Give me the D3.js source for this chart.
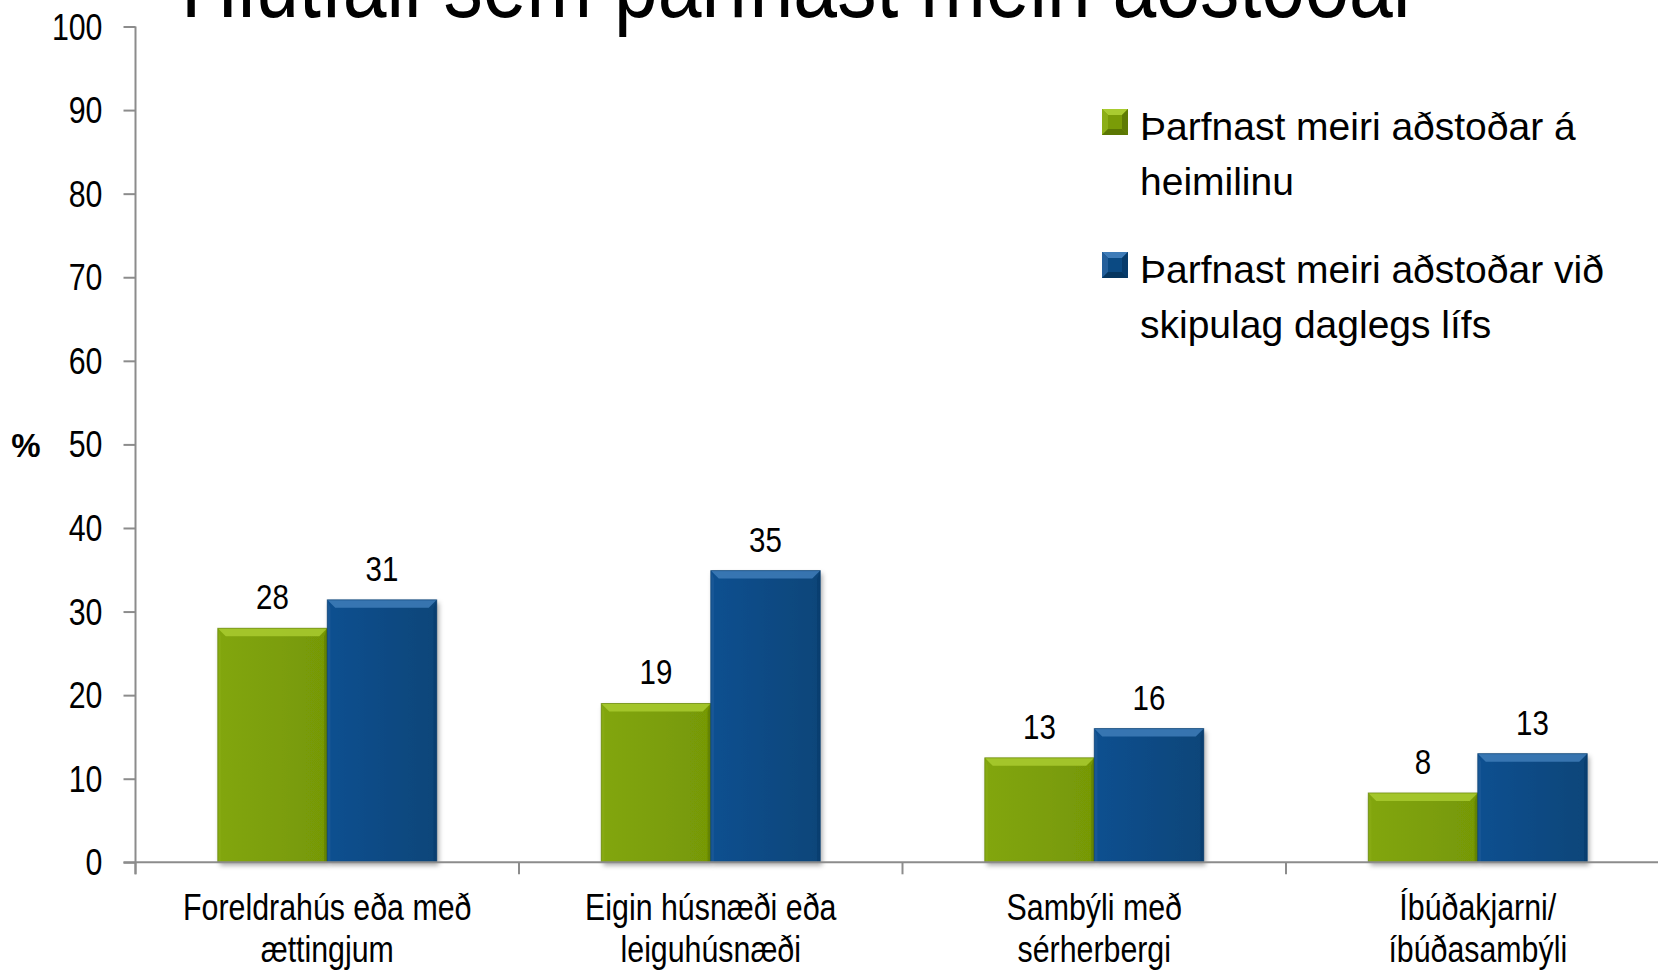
<!DOCTYPE html>
<html><head><meta charset="utf-8">
<script src="https://cdn.jsdelivr.net/npm/d3@7"></script>
<style>html,body{margin:0;padding:0;background:#fff;overflow:hidden}</style>
</head><body>
<svg id="c" width="1658" height="970"></svg>
<script>
const title = "Hlutfall sem þarfnast meiri aðstoðar";
const categories = ["Foreldrahús eða með ættingjum","Eigin húsnæði eða leiguhúsnæði","Sambýli með sérherbergi","Íbúðakjarni/ íbúðasambýli"];
const categoryLines = [["Foreldrahús eða með","ættingjum"],["Eigin húsnæði eða","leiguhúsnæði"],["Sambýli með","sérherbergi"],["Íbúðakjarni/","íbúðasambýli"]];
const seriesNames = ["Þarfnast meiri aðstoðar á heimilinu","Þarfnast meiri aðstoðar við skipulag daglegs lífs"];
const legendLines = [["Þarfnast meiri aðstoðar á","heimilinu"],["Þarfnast meiri aðstoðar við","skipulag daglegs lífs"]];
const heimilinu = [28, 19, 12.5, 8.3];
const skipulag = [31.4, 34.9, 16, 13];
const yTicks = [0,10,20,30,40,50,60,70,80,90,100];
const yLabel = "%";

// font detection
function tw(font){const c=document.createElement('canvas').getContext('2d');c.font=font;return c.measureText("Þarfnast meiri aðstoðar 0123").width;}
const hasNarrow = tw("40px 'Liberation Sans Narrow', monospace") !== tw("40px monospace");
const FONT = hasNarrow ? "'Liberation Sans Narrow','Arial Narrow',sans-serif" : "'Liberation Sans',Arial,sans-serif";
const SX = hasNarrow ? 1 : 0.82;
const WIDE = "'Liberation Sans',Arial,sans-serif";

const svg = d3.select("#c");
const W = 1658, H = 970;
const defs = svg.append("defs");
defs.append("filter").attr("id","sh").attr("x","-20%").attr("y","-20%").attr("width","150%").attr("height","150%")
  .append("feDropShadow").attr("dx",2).attr("dy",3).attr("stdDeviation",2.5).attr("flood-color","#000").attr("flood-opacity",0.35);

const pal = [
  {base:"#7a9c07", top:"#a9cb30", left:"#8cae17", right:"#5e7b04", bottom:"#5b7703", grad:["#82a60b","#769806"]},
  {base:"#0b4a83", top:"#3f7cb8", left:"#245f9b", right:"#073b6b", bottom:"#063660", grad:["#0f5090","#0a4579"]}
];
pal.forEach((p,i)=>{
  const g = defs.append("linearGradient").attr("id","g"+i).attr("x1",0).attr("x2",1).attr("y1",0).attr("y2",0);
  g.append("stop").attr("offset","0%").attr("stop-color",p.grad[0]);
  g.append("stop").attr("offset","100%").attr("stop-color",p.grad[1]);
});

function txt(parent,x,y,s,size,anchor,weight,wide){
  const sx = wide ? 1 : SX;
  return parent.append("text").attr("transform",`translate(${x},${y}) scale(${sx},1)`)
    .attr("text-anchor",anchor||"start").attr("font-family",wide?WIDE:FONT).attr("font-size",size)
    .attr("font-weight",weight||"normal").attr("fill","#000").text(s);
}

const y = d3.scaleLinear().domain([0,100]).range([862.3,26.5]);
const x0 = d3.scaleBand().domain(categories).range([135.5,1669.5]).padding(0);
const x1 = d3.scaleBand().domain(seriesNames).range([x0.bandwidth()*0.2145, x0.bandwidth()*0.7855]).padding(0);

// title
txt(svg,181,17,title,96,"start");

// y axis
const yAxis = svg.append("g").attr("transform",`translate(${x0.range()[0]},0)`)
  .call(d3.axisLeft(y).tickValues(yTicks).tickSize(12).tickPadding(21).tickFormat(d3.format("d")));
yAxis.select(".domain").attr("stroke","#8c8c8c").attr("stroke-width",2).attr("d",`M0,${y(100)}V${y(0)+12}`);
yAxis.selectAll(".tick line").attr("stroke","#8c8c8c").attr("stroke-width",2);
yAxis.selectAll(".tick text").remove();
yTicks.forEach(t=>txt(svg,x0.range()[0]-33,y(t)+13,String(t),37,"end"));
txt(svg,26,y(50)+13,yLabel,33,"middle","bold",true);

// bars
const data = categories.map((c,i)=>({cat:c, vals:[heimilinu[i], skipulag[i]]}));
const bev = 8;
data.forEach((d,ci)=>{
  d.vals.forEach((v,si)=>{
    const p = pal[si];
    const xa = x0(d.cat) + x1(seriesNames[si]);
    const xb = xa + x1.bandwidth();
    const yt = y(v), yb = y(0);
    const g = svg.append("g");
    g.append("rect").attr("x",xa).attr("y",yt).attr("width",xb-xa).attr("height",yb-yt)
      .attr("fill","url(#g"+si+")").attr("filter","url(#sh)");
    g.append("polygon").attr("points",`${xa},${yt} ${xb},${yt} ${xb-bev},${yt+bev} ${xa+bev},${yt+bev}`).attr("fill",p.top).attr("opacity",0.85);
    g.append("polygon").attr("points",`${xa},${yt} ${xa+bev*0.4},${yt+bev} ${xa+bev*0.4},${yb} ${xa},${yb}`).attr("fill",p.left).attr("opacity",0.5);
    g.append("polygon").attr("points",`${xb},${yt} ${xb-bev*0.4},${yt+bev} ${xb-bev*0.4},${yb} ${xb},${yb}`).attr("fill",p.right).attr("opacity",0.6);
    g.append("rect").attr("x",xa).attr("y",yt).attr("width",xb-xa).attr("height",yb-yt).attr("fill","none")
      .attr("stroke",p.right).attr("stroke-width",1).attr("stroke-opacity",0.6);
    txt(svg,(xa+xb)/2,yt-19,String(Math.round(v)),36,"middle");
  });
});

// x axis
const xg = svg.append("g");
xg.append("line").attr("x1",x0.range()[0]-12).attr("x2",W).attr("y1",y(0)).attr("y2",y(0)).attr("stroke","#8c8c8c").attr("stroke-width",2);
categories.forEach(c=>{
  xg.append("line").attr("x1",x0(c)).attr("x2",x0(c)).attr("y1",y(0)).attr("y2",y(0)+12).attr("stroke","#8c8c8c").attr("stroke-width",2);
});
categories.forEach((c,i)=>{
  const cx = x0(c)+x0.bandwidth()/2;
  categoryLines[i].forEach((ln,li)=>txt(svg,cx,920+li*42,ln,37,"middle"));
});

// legend
const legY = [109,252];
legendLines.forEach((lines,i)=>{
  const p = pal[i]; const sx=1102, sy=legY[i], s=26, b=6;
  const lg = svg.append("g");
  lg.append("rect").attr("x",sx).attr("y",sy).attr("width",s).attr("height",s).attr("fill",p.base);
  lg.append("polygon").attr("points",`${sx},${sy} ${sx+s},${sy} ${sx+s-b},${sy+b} ${sx+b},${sy+b}`).attr("fill",p.top);
  lg.append("polygon").attr("points",`${sx},${sy} ${sx+b},${sy+b} ${sx+b},${sy+s-b} ${sx},${sy+s}`).attr("fill",p.left);
  lg.append("polygon").attr("points",`${sx+s},${sy} ${sx+s-b},${sy+b} ${sx+s-b},${sy+s-b} ${sx+s},${sy+s}`).attr("fill",p.right);
  lg.append("polygon").attr("points",`${sx},${sy+s} ${sx+b},${sy+s-b} ${sx+s-b},${sy+s-b} ${sx+s},${sy+s}`).attr("fill",p.bottom);
  lines.forEach((ln,li)=>txt(svg,1140,sy+31+li*55,ln,39,"start",null,true));
});
</script>
</body></html>
